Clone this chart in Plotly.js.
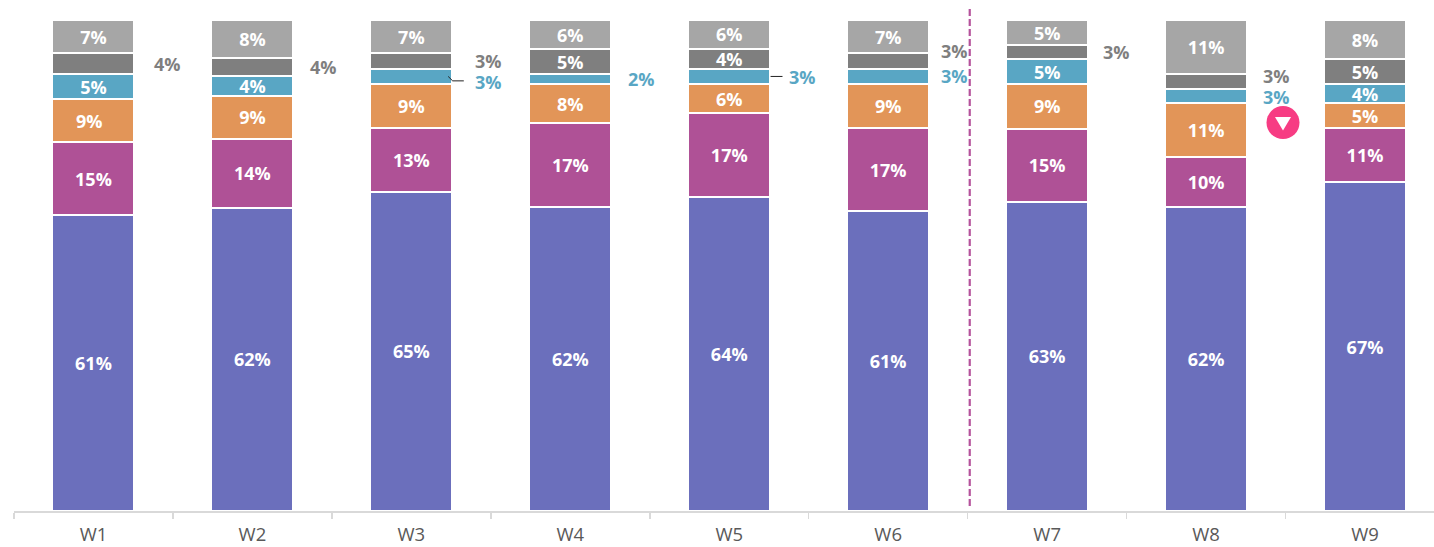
<!DOCTYPE html>
<html><head><meta charset="utf-8">
<script src="https://cdn.plot.ly/plotly-3.0.1.min.js"></script>
<style>html,body{margin:0;padding:0;background:#fff;overflow:hidden}</style>
</head><body><div id="chart" style="width:1434px;height:547px"></div>
<script>
const weeks = ["W1","W2","W3","W4","W5","W6","W7","W8","W9"];

const blueValues   = [60.2,61.8,65.0,62.0,64.0,61.0,63.0,62.0,67.0];
const purpleValues = [14.9,13.9,13.0,17.0,17.0,17.0,14.9,10.0,11.0];
const orangeValues = [8.8,8.9,9.0,7.9,5.9,9.0,9.0,11.0,5.0];
const tealValues   = [5.0,3.9,3.1,2.0,3.1,3.1,5.1,3.0,3.9];
const darkValues   = [4.3,3.7,3.1,5.1,4.1,3.1,3.0,3.0,5.1];
const lightValues  = [6.8,7.8,6.8,6.0,5.9,6.8,4.9,11.0,8.0];

const blueLabels   = ["61%","62%","65%","62%","64%","61%","63%","62%","67%"];
const purpleLabels = ["15%","14%","13%","17%","17%","17%","15%","10%","11%"];
const orangeLabels = ["","9%","9%","8%","6%","9%","9%","11%","5%"];
const tealLabels   = ["5%","4%","","","","","5%","","4%"];
const darkLabels   = ["","","","5%","4%","","","","5%"];
const lightLabels  = ["7%","8%","7%","6%","6%","7%","5%","11%","8%"];

// labels placed by hand, off the segment centre
const sideWeek  = [0,1,2,2,3,4,5,5,6,7,7,0];
const sideX     = [0.465,0.45,0.485,0.485,0.45,0.46,0.415,0.415,0.435,0.445,0.445,-0.027];
const sideY     = [91.0,90.4,91.6,87.3,87.9,88.4,93.7,88.6,93.5,88.6,84.4,79.4];
const sideText  = ["4%","4%","3%","3%","2%","3%","3%","3%","3%","3%","3%","9%"];
const sideColor = ["dark","dark","dark","teal","teal","teal","dark","teal","dark","dark","teal","white"];

const C = {blue:"#6B6FBC",purple:"#AF5196",orange:"#E29558",teal:"#59A6C4",dark:"#7F7F7F",light:"#A6A6A6",white:"#fff"};
const FONT = "'Open Sans', sans-serif";

function series(name, y, text, color){
  return {type:"bar", name, x:weeks, y, text, width:0.516,
    marker:{color, line:{color:"#fff", width:2}},
    textposition:"inside", insidetextanchor:"middle", constraintext:"none", textangle:0,
    insidetextfont:{family:FONT, size:18, color:"#fff", weight:700},
    hoverinfo:"skip", cliponaxis:false};
}
const traces = [
  series("a", blueValues, blueLabels, C.blue),
  series("b", purpleValues, purpleLabels, C.purple),
  series("c", orangeValues, orangeLabels, C.orange),
  series("d", tealValues, tealLabels, C.teal),
  series("e", darkValues, darkLabels, C.dark),
  series("f", lightValues, lightLabels, C.light)
];

const annotations = sideText.map((t,i)=>({
  x: sideWeek[i]+sideX[i], y: sideY[i], xref:"x", yref:"y", text:t, showarrow:false,
  xanchor:"center", yanchor:"middle",
  font:{family:FONT, size:18, weight:700, color:C[sideColor[i]]}
}));

const line = (x0,y0,x1,y1)=>({type:"line",xref:"x",yref:"y",x0,y0,x1,y1,line:{color:"#222",width:1}});
const shapes = [
  {type:"line",xref:"x",yref:"y",x0:5.513,x1:5.513,y0:1.0,y1:102.6,line:{color:"#B5529C",width:2.2,dash:"7px,3px"}},
  line(2.2315,88.5,2.26,87.6), line(2.26,87.6,2.33,87.6),
  line(4.26,88.5,4.335,88.5),
  {type:"circle",xref:"x",yref:"y",xsizemode:"pixel",ysizemode:"pixel",xanchor:7.484,yanchor:79.1,
    x0:-16.5,x1:16.5,y0:-16.5,y1:16.5,fillcolor:"#F73C83",line:{width:0}},
  {type:"path",xref:"x",yref:"y",xsizemode:"pixel",ysizemode:"pixel",xanchor:7.484,yanchor:79.1,
    path:"M -8 5.5 L 8 5.5 L 0 -8 Z",fillcolor:"#fff",line:{width:0}}
];

Plotly.newPlot("chart", traces, {
  width:1434, height:547, barmode:"stack", showlegend:false,
  margin:{l:13.5,r:0,t:0,b:36},
  paper_bgcolor:"#fff", plot_bgcolor:"#fff",
  xaxis:{type:"category", categoryorder:"array", categoryarray:weeks, range:[-0.5,8.434],
    tickson:"boundaries", ticks:"outside", ticklen:6, tickwidth:1.5, tickcolor:"#D9D9D9",
    showline:true, linecolor:"#D9D9D9", linewidth:1.5, showgrid:false, zeroline:false,
    ticklabelstandoff:6, tickfont:{family:FONT,size:18.5,color:"#595959"}},
  yaxis:{range:[0,104.07], visible:false, showgrid:false, zeroline:false, fixedrange:true},
  annotations, shapes
}, {displayModeBar:false, staticPlot:true});
</script></body></html>
